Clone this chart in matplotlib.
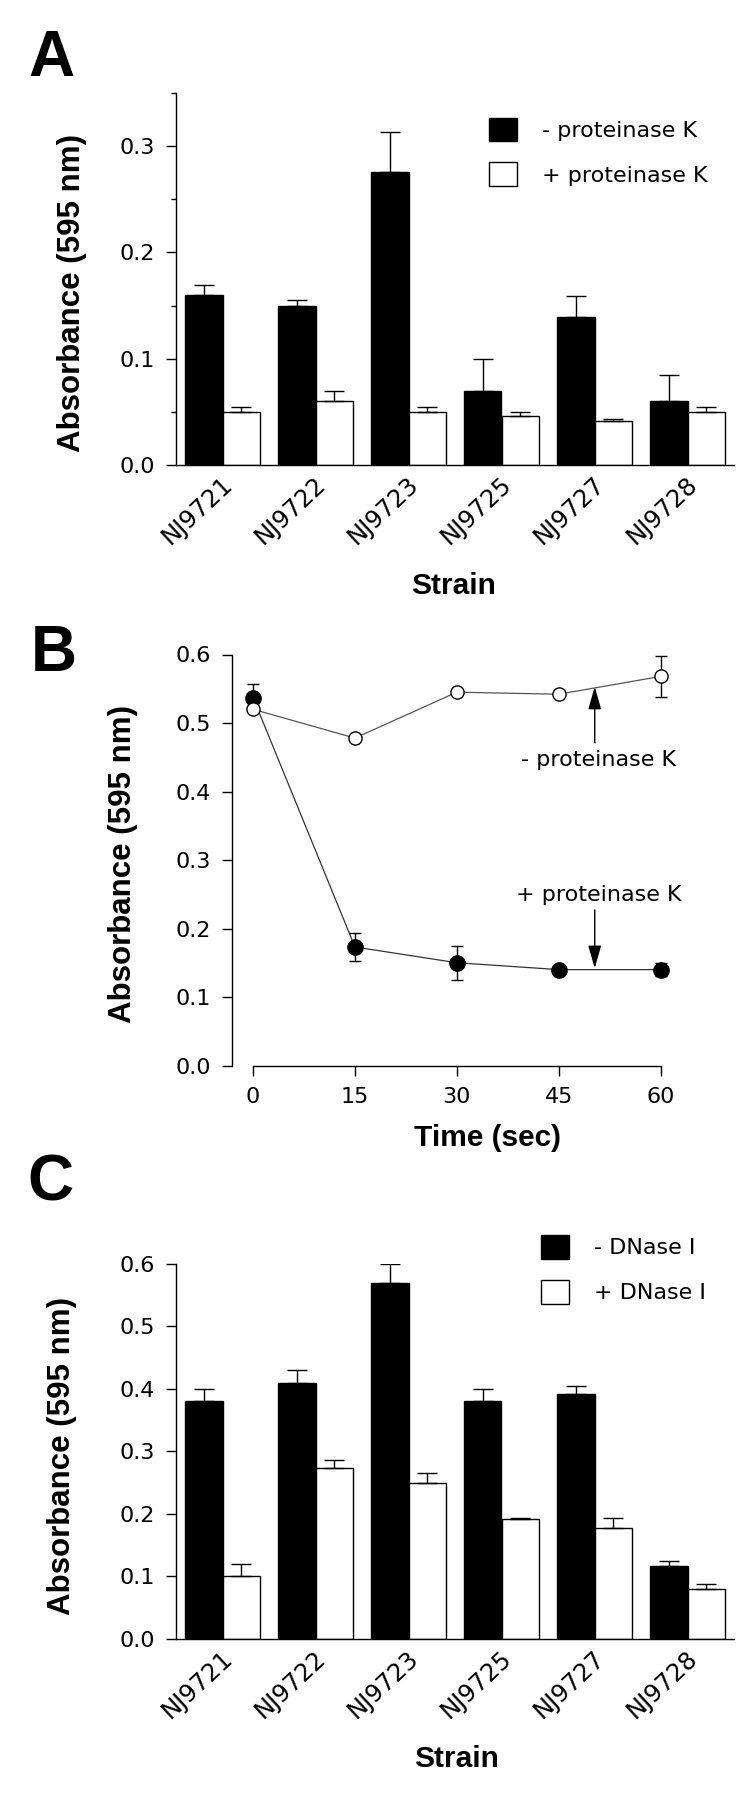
import numpy as np
import matplotlib
matplotlib.use('Agg')
import matplotlib.pyplot as plt
import matplotlib.transforms as mtransforms
from matplotlib.patches import Patch
from matplotlib.ticker import MultipleLocator, FormatStrFormatter

strains = ['NJ9721', 'NJ9722', 'NJ9723', 'NJ9725', 'NJ9727', 'NJ9728']

# panel A: absorbance with / without proteinase K
a_minus = [0.16, 0.15, 0.275, 0.07, 0.139, 0.06]
a_minus_err = [0.009, 0.005, 0.038, 0.03, 0.02, 0.025]
a_plus = [0.05, 0.06, 0.05, 0.046, 0.042, 0.05]
a_plus_err = [0.005, 0.01, 0.005, 0.004, 0.0015, 0.005]

# panel B: time course
time_sec = [0, 15, 30, 45, 60]
b_minus = [0.52, 0.478, 0.545, 0.542, 0.568]
b_minus_err = [0, 0, 0, 0, 0.03]
b_plus = [0.537, 0.173, 0.15, 0.14, 0.14]
b_plus_err = [0.02, 0.02, 0.025, 0, 0.01]

# panel C: absorbance with / without DNase I
c_minus = [0.38, 0.41, 0.57, 0.38, 0.392, 0.116]
c_minus_err = [0.02, 0.02, 0.03, 0.02, 0.013, 0.008]
c_plus = [0.1, 0.273, 0.25, 0.191, 0.178, 0.079]
c_plus_err = [0.02, 0.013, 0.015, 0.003, 0.016, 0.008]

W, H = 750, 1800
bold_font = ['Liberation Sans', 'DejaVu Sans']

plt.rcParams['font.family'] = ['DejaVu Sans']
plt.rcParams['axes.linewidth'] = 1.0

fig = plt.figure(figsize=(W / 100, H / 100), dpi=100)


def px_axes(left, right, top, bottom):
    # axes rectangle given in pixel coordinates (origin top-left)
    return fig.add_axes([left / W, 1 - bottom / H, (right - left) / W, (bottom - top) / H])


def style_axes(ax):
    ax.spines['top'].set_visible(False)
    ax.spines['right'].set_visible(False)
    ax.tick_params(axis='y', direction='out', length=7.2, width=1, labelsize=16, pad=8)
    ax.yaxis.set_major_formatter(FormatStrFormatter('%.1f'))


def bar_panel(ax, minus, minus_err, plus, plus_err, labels):
    x = np.arange(len(strains))
    w = 0.4
    ekw = dict(ecolor='black', elinewidth=1, capsize=7, capthick=1)
    ax.bar(x - w / 2, minus, w, color='black', edgecolor='black', linewidth=1,
           yerr=[np.zeros(len(minus)), minus_err], error_kw=ekw, label=labels[0])
    ax.bar(x + w / 2, plus, w, color='white', edgecolor='black', linewidth=1,
           yerr=[np.zeros(len(plus)), plus_err], error_kw=ekw, label=labels[1])
    ax.set_xlim(-0.5, 5.5)
    ax.set_xticks(x)
    ax.set_xticklabels(strains, rotation=43, ha='right', va='top',
                       rotation_mode='anchor', fontsize=17.5)
    ax.tick_params(axis='x', length=0, pad=5)
    offset = mtransforms.ScaledTranslation(-1 / 72, 0, fig.dpi_scale_trans)
    for lab in ax.get_xticklabels():
        lab.set_transform(lab.get_transform() + offset)
    style_axes(ax)
    handles = [Patch(facecolor='black', edgecolor='black', label=labels[0]),
               Patch(facecolor='white', edgecolor='black', label=labels[1])]
    return handles


legend_kw = dict(loc='upper left', frameon=False, fontsize=16, handlelength=1.27,
                 handleheight=1.27, handletextpad=1.1, labelspacing=0.95, borderaxespad=0)

# ---- panel A ----
axA = px_axes(176, 734, 92.6, 465.4)
hA = bar_panel(axA, a_minus, a_minus_err, a_plus, a_plus_err,
               ['- proteinase K', '+ proteinase K'])
axA.set_ylim(0, 0.35)
axA.yaxis.set_major_locator(MultipleLocator(0.1))
axA.yaxis.set_minor_locator(MultipleLocator(0.05))
axA.tick_params(axis='y', which='minor', length=3.6, width=1)
axA.legend(handles=hA, bbox_to_anchor=(0.545, 0.957), **legend_kw)

# ---- panel B ----
axB = px_axes(232, 681, 640.8, 1065.5)
axB.plot(time_sec, b_plus, color='#333333', lw=0.9, zorder=2)
axB.errorbar(time_sec, b_plus, yerr=b_plus_err, fmt='o', color='black', ms=11,
             ecolor='black', elinewidth=1, capsize=4.3, capthick=1, zorder=3)
axB.plot(time_sec, b_minus, color='#555555', lw=0.9, zorder=4)
axB.errorbar(time_sec, b_minus, yerr=b_minus_err, fmt='o', mfc='white', mec='black',
             mew=1, ms=9.5, ecolor='black', elinewidth=1, capsize=4.3, capthick=1, zorder=5)
axB.set_xlim(-3.1, 63)
axB.set_ylim(0, 0.62)
axB.spines['left'].set_bounds(0, 0.6)
axB.spines['bottom'].set_bounds(0, 60)
axB.set_xticks(time_sec)
axB.yaxis.set_major_locator(MultipleLocator(0.1))
style_axes(axB)
axB.tick_params(axis='x', direction='out', length=7.2, width=1, labelsize=16, pad=8)
arrow = dict(arrowstyle='-|>,head_length=0.7,head_width=0.2', color='black', lw=1,
             mutation_scale=20, shrinkA=0, shrinkB=0)
axB.annotate('', xy=(50.3, 0.553), xytext=(50.3, 0.471), arrowprops=arrow)
axB.annotate('', xy=(50.3, 0.142), xytext=(50.3, 0.227), arrowprops=arrow)
axB.text(50.9, 0.446, '- proteinase K', ha='center', va='center', fontsize=16)
axB.text(50.9, 0.249, '+ proteinase K', ha='center', va='center', fontsize=16)

# ---- panel C ----
axC = px_axes(176, 734, 1264, 1638.7)
hC = bar_panel(axC, c_minus, c_minus_err, c_plus, c_plus_err, ['- DNase I', '+ DNase I'])
axC.set_ylim(0, 0.6)
axC.yaxis.set_major_locator(MultipleLocator(0.1))
axC.legend(handles=hC, bbox_to_anchor=(0.638, 1.101), **legend_kw)

# ---- labels ----
for letter, (x, y) in zip('ABC', [(51, 59), (54, 654), (50.5, 1183.5)]):
    fig.text(x / W, 1 - y / H, letter, ha='center', va='center', fontsize=46,
             fontweight='bold', family=bold_font)

for x, y in [(72, 293), (122.6, 864), (62.5, 1456)]:
    fig.text(x / W, 1 - y / H, 'Absorbance (595 nm)', rotation=90, ha='center',
             va='center', fontsize=22.5, fontweight='bold', family=bold_font)

for txt, (x, y) in [('Strain', (454, 586)), ('Time (sec)', (488, 1138)), ('Strain', (457, 1759))]:
    fig.text(x / W, 1 - y / H, txt, ha='center', va='center', fontsize=21.5,
             fontweight='bold', family=bold_font)

fig.savefig('out.png', dpi=100)
